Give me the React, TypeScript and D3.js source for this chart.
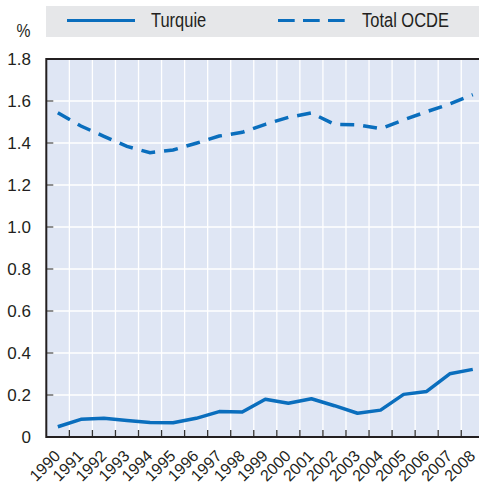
import React from "react";
import * as d3 from "d3";

const years = ["1990","1991","1992","1993","1994","1995","1996","1997","1998","1999","2000","2001","2002","2003","2004","2005","2006","2007","2008"];
const turquie = [0.049,0.084,0.089,0.079,0.069,0.068,0.089,0.121,0.119,0.180,0.161,0.182,0.149,0.113,0.128,0.203,0.217,0.301,0.322];
const ocde = [1.544,1.481,1.432,1.384,1.354,1.367,1.399,1.433,1.451,1.489,1.522,1.543,1.489,1.487,1.468,1.510,1.549,1.586,1.630];
const yTicks = [0,0.2,0.4,0.6,0.8,1.0,1.2,1.4,1.6,1.8];
const seriesNames = ["Turquie","Total OCDE"];

const FONT = "'Liberation Sans', Arial, sans-serif";
const BLUE = "#0a6ebd";

export default function App() {
  const W = 479, H = 486;
  const left = 46.3, right = 484.3, top = 59, bottom = 437;
  const x = d3.scaleBand<string>().domain(years).range([left, right]).padding(0);
  const y = d3.scaleLinear().domain([0, 1.8]).range([bottom, top]);
  const cx = (d: string) => (x(d) as number) + x.bandwidth() / 2;
  const line = d3.line<number>().x((_, i) => cx(years[i])).y(v => y(v)).curve(d3.curveLinear);
  const fmt = (v: number) => (v === 0 ? "0" : v.toFixed(1));
  return (
    <svg width={W} height={H} style={{ position: "absolute", left: 0, top: 0, display: "block" }} fontFamily={FONT}>
      <rect x={0} y={0} width={W} height={H} fill="#fff" />
      {/* legend */}
      <rect x={46} y={6} width={433} height={31} fill="#e6e7e9" />
      <line x1={67} x2={135} y1={20.5} y2={20.5} stroke={BLUE} strokeWidth={3} />
      <text transform="translate(151,27.3) scale(0.845,1)" fontSize={19.5} fill="#231f20">{seriesNames[0]}</text>
      <line x1={278} x2={345} y1={20.5} y2={20.5} stroke={BLUE} strokeWidth={3} strokeDasharray="16.7 8.3" />
      <text transform="translate(362,27.3) scale(0.845,1)" fontSize={19.5} fill="#231f20">{seriesNames[1]}</text>
      <text transform="translate(16.5,36.5) scale(0.85,1)" fontSize={18.5} fill="#231f20">%</text>
      {/* plot bg */}
      <rect x={left} y={top} width={right - left} height={bottom - top} fill="#dfe6f4" />
      {years.slice(1).map(d => (
        <line key={"vg" + d} x1={x(d)} x2={x(d)} y1={top} y2={bottom} stroke="#fff" strokeWidth={1.3} />
      ))}
      {yTicks.slice(1, -1).map(t => (
        <line key={"hg" + t} x1={left} x2={right} y1={y(t)} y2={y(t)} stroke="#fff" strokeWidth={1.3} />
      ))}
      {yTicks.slice(1, -1).map(t => (
        <line key={"yt" + t} x1={left} x2={left + 7} y1={y(t)} y2={y(t)} stroke="#555" strokeWidth={1.3} />
      ))}
      {years.slice(1).map(d => (
        <line key={"xt" + d} x1={x(d)} x2={x(d)} y1={bottom} y2={bottom - 7} stroke="#333" strokeWidth={1.3} />
      ))}
      <path d={line(ocde) || ""} fill="none" stroke={BLUE} strokeWidth={3.5} strokeDasharray="14 9" />
      <path d={line(turquie) || ""} fill="none" stroke={BLUE} strokeWidth={3.5} strokeLinejoin="round" />
      <rect x={left} y={top} width={right - left} height={bottom - top} fill="none" stroke="#231f20" strokeWidth={2} />
      {yTicks.map(t => (
        <text key={"yl" + t} x={31} y={y(t) + 6.3} fontSize={17} textAnchor="end" fill="#231f20">{fmt(t)}</text>
      ))}
      {years.map(d => (
        <text key={"xl" + d} transform={`translate(${cx(d) + 3.5},${bottom + 20}) rotate(-45)`} fontSize={16} textAnchor="end" fill="#231f20">{d}</text>
      ))}
    </svg>
  );
}
